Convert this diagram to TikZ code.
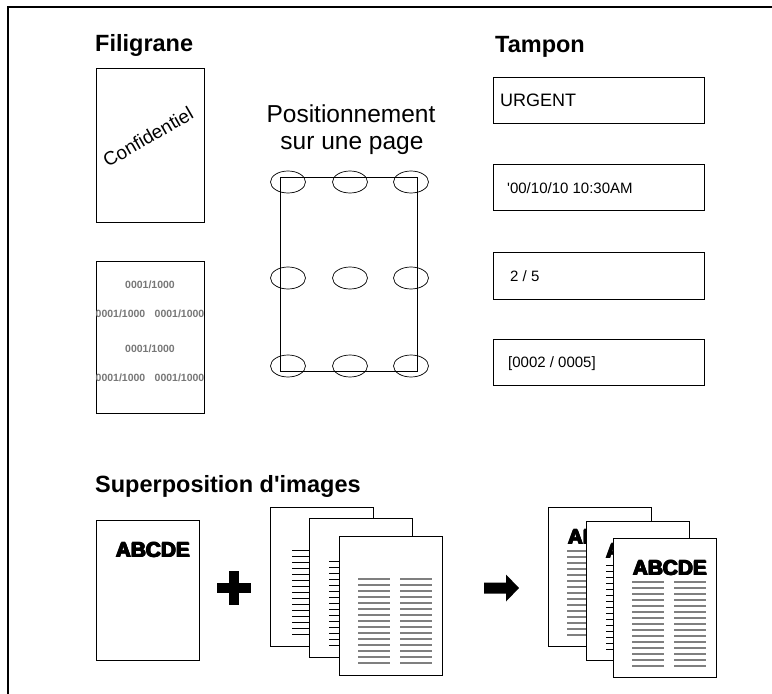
\documentclass[tikz,border=0pt]{standalone}
\usepackage{fontspec}
\setmainfont[Ligatures=TeXOff]{Liberation Sans}
\usetikzlibrary{shapes.geometric}
\definecolor{linegray}{HTML}{7F7F7F}
\definecolor{numgray}{HTML}{777777}
% heavy lettering: the bold face set a few times side by side
\newcommand\heavyword[1]{\rlap{#1}\rlap{\kern0.7pt#1}\rlap{\kern1.4pt#1}\rlap{\raisebox{0.6pt}{\kern0.7pt#1}}\kern1.4pt#1}

\begin{document}
\begin{tikzpicture}[x=1pt,y=-1pt,
  heading/.style={anchor=base west,inner sep=0pt,font=\fontsize{23.5}{28}\selectfont\bfseries},
  sheet/.style={draw,fill=white,line width=0.9pt,anchor=north west,inner sep=0pt,outer sep=0pt},
  stampbox/.style={draw,line width=0.9pt,anchor=north west,minimum width=211pt,minimum height=46pt,inner sep=0pt},
  stamptext/.style={anchor=base west,inner sep=0pt,font=\fontsize{15}{18}\selectfont},
  spot/.style={draw,ellipse,line width=0.7pt,minimum width=35pt,minimum height=22pt,inner sep=0pt},
  pagenum/.style={inner sep=0pt,text=numgray,font=\fontsize{10.5}{12}\selectfont\bfseries},
  bigword/.style={anchor=base west,inner sep=0pt,font=\bfseries\fontsize{20.8}{24}\selectfont}]
  \useasboundingbox (0,0) rectangle (772,694);
  % frame
  \draw[line width=1.2pt] (8,694) -- (8,7) -- (772,7);

  % watermark
  \node[heading] (filigrane) at (95,51) {Filigrane};
  \node[sheet,minimum width=108pt,minimum height=154pt] (wmark) at (96,68) {};
  \node[rotate=30,font=\fontsize{19}{22}\selectfont] (conf) at (148,137) {Confidentiel};
  \node[sheet,minimum width=108pt,minimum height=152pt] (wnum) at (96,261) {};
  \foreach \y in {285,349}
    \node[pagenum] (num\y) at (150,\y) {0001/1000};
  \foreach \y in {314,378}{
    \node[pagenum] (numl\y) at (120.5,\y) {0001/1000};
    \node[pagenum] (numr\y) at (179.5,\y) {0001/1000};}

  % position on the page
  \node[anchor=base,font=\fontsize{24.5}{27}\selectfont] (pos1) at (351,122) {Positionnement};
  \node[anchor=base,font=\fontsize{24.5}{27}\selectfont] (pos2) at (352,149) {sur une page};
  \node[draw,line width=0.9pt,anchor=north west,minimum width=137pt,minimum height=194pt,inner sep=0pt] (layout) at (280,177) {};
  \foreach \x/\c in {288/l,350/m,411/r}
    \foreach \y/\r in {182/t,278/c,366/b}
      \node[spot] (\r\c) at (\x,\y) {};

  % stamps
  \node[heading] (tampon) at (495,52) {Tampon};
  \node[stampbox] (st1) at (493,77) {};
  \node[stampbox] (st2) at (493,164) {};
  \node[stampbox,minimum height=47pt] (st3) at (493,252) {};
  \node[stampbox] (st4) at (493,339) {};
  \node[stamptext,font=\fontsize{18}{21}\selectfont] (urgent) at (500,106.5) {URGENT};
  \node[stamptext] (date) at (507,193.4) {'00/10/10 10:30AM};
  \node[stamptext] (pg) at (510,281) {2 / 5};
  \node[stamptext] (pgb) at (508,367) {[0002 / 0005]};

  % overlay
  \node[heading] (superpos) at (95,492) {Superposition d'images};
  \node[sheet,minimum width=103pt,minimum height=140pt] (form) at (96,520) {};
  \node[bigword] (formword) at (115,557) {\heavyword{ABCDE}};
  \fill (217,583) rectangle (251,593);
  \fill (229,571) rectangle (239,605);
  \foreach \n/\x/\y/\o/\c/\w in {pa/270/507/22/black/0.6,pb/309/518/20/black/0.6,pc/339/536/19/linegray/1.6}{
    \node[sheet,minimum width=103pt,minimum height=139pt] (\n) at (\x,\y) {};
    \foreach \k in {0,...,14}
      \draw[\c,line width=\w pt] (\x+\o,{\y+43+6*\k}) -- ++(32,0) (\x+\o+42,{\y+43+6*\k}) -- ++(32,0);}
  \fill (484,582.5) -- (506,582.5) -- (506,574.5) -- (519,588) -- (506,601.5) -- (506,593.5) -- (484,593.5) -- cycle;
  \foreach \n/\x/\y/\o/\c/\w in {pd/548/507/19/linegray/1.6,pe/586/521/20/black/0.6,pf/613/538/19/linegray/1.6}{
    \node[sheet,minimum width=103pt,minimum height=139pt] (\n) at (\x,\y) {};
    \node[bigword] (\n word) at (\x+19,\y+37) {\heavyword{ABCDE}};
    \foreach \k in {0,...,14}
      \draw[\c,line width=\w pt] (\x+\o,{\y+44+6*\k}) -- ++(32,0) (\x+\o+42,{\y+44+6*\k}) -- ++(32,0);}
\end{tikzpicture}
\end{document}
